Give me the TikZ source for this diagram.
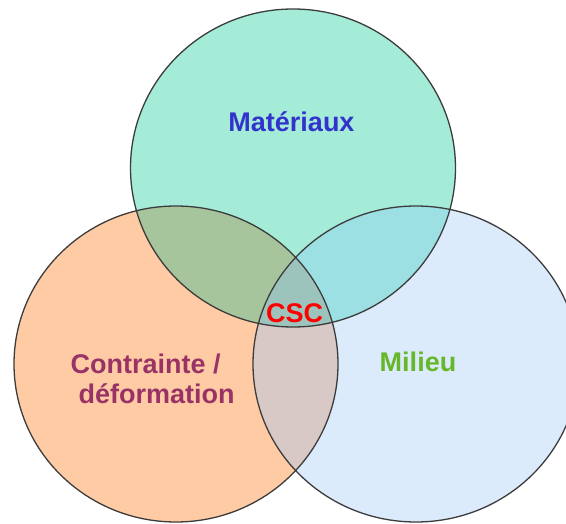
\documentclass[tikz,border=0pt]{standalone}
\usepackage{fontspec}
\setmainfont{Liberation Sans}
\definecolor{cTop}{HTML}{A4ECD8}
\definecolor{cLeft}{HTML}{FFCBA5}
\definecolor{cRight}{HTML}{DBEBFC}
\definecolor{cTL}{HTML}{A6C59D}
\definecolor{cTR}{HTML}{9CE0E4}
\definecolor{cLR}{HTML}{D8C9C6}
\definecolor{cAll}{HTML}{9DC4BC}
\definecolor{cEdge}{HTML}{3C3C3C}
\definecolor{cMat}{HTML}{3333CC}
\definecolor{cCon}{HTML}{993366}
\definecolor{cMil}{HTML}{66B82A}
\definecolor{cCsc}{HTML}{FF0000}
\tikzset{
  Tpath/.style={insert path={(293,168) ellipse [x radius=162.5, y radius=159]}},
  Lpath/.style={insert path={(176,364) ellipse [x radius=162, y radius=158]}},
  Rpath/.style={insert path={(416,364) ellipse [x radius=163, y radius=158]}},
  rim/.style={draw=cEdge, line width=1.3pt},
  lbl/.style={inner sep=0pt, font=\fontsize{27}{30}\selectfont\bfseries}
}
\begin{document}
\begin{tikzpicture}[x=1pt,y=-1pt]
\useasboundingbox (0,0) rectangle (566,524);
\clip (0,0) rectangle (566,524);
% base fills
\fill[cLeft, Lpath];
\fill[cRight, Rpath];
\fill[cTop, Tpath];
% pairwise overlaps
\begin{scope}\clip[Tpath]; \fill[cTL, Lpath]; \end{scope}
\begin{scope}\clip[Tpath]; \fill[cTR, Rpath]; \end{scope}
\begin{scope}\clip[Lpath]; \fill[cLR, Rpath]; \end{scope}
\begin{scope}\clip[Tpath]; \clip[Lpath]; \fill[cAll, Rpath]; \end{scope}
% outlines
\path[rim, Lpath];
\path[rim, Rpath];
\path[rim, Tpath];
% labels
\node[lbl, text=cMat, anchor=base] (mat) at (291.5,131.7) {Matériaux};
\node[lbl, text=cMil, anchor=base] (mil) at (418,371.7) {Milieu};
\node[lbl, text=cCsc, anchor=base] (csc) at (294.7,323) {CSC};
\node[lbl, text=cCon, anchor=base west] (con1) at (70.5,373.3) {Contrainte /};
\node[lbl, text=cCon, anchor=base west] (con2) at (78.5,403) {déformation};
\end{tikzpicture}
\end{document}
